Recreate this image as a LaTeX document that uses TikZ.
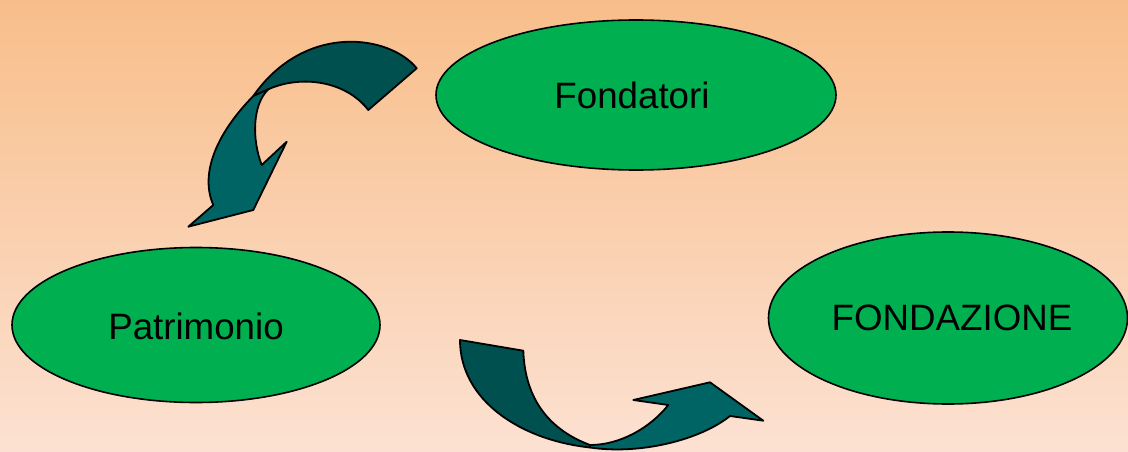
\documentclass[tikz,border=0pt]{standalone}
\usepackage{fontspec}
\setmainfont{Liberation Sans}
\usetikzlibrary{shapes.geometric}
\definecolor{bgtop}{HTML}{F8BE8A}
\definecolor{bgmid}{HTML}{F9D6A2}
\definecolor{bgbot}{HTML}{FCE1D2}
\definecolor{ovalgreen}{HTML}{00B050}
\definecolor{backteal}{HTML}{005050}
\definecolor{frontteal}{HTML}{006464}
\tikzset{
  oval/.style={ellipse, draw=black, line width=1.6pt, fill=ovalgreen, inner sep=0pt},
  label text/.style={font=\fontsize{36.7}{44}\selectfont},
  backface/.style={fill=backteal, draw=black, line width=1.8pt, line join=round},
  frontface/.style={fill=frontteal, draw=black, line width=1.8pt, line join=round},
}
\begin{document}
\begin{tikzpicture}[x=1pt,y=-1pt]
\useasboundingbox (0,0) rectangle (1128,452);
\shade[top color=bgtop, middle color=bgmid, bottom color=bgbot] (0,0) rectangle (1128,452);
\clip (0,0) rectangle (1128,452);

\node[oval, minimum width=400pt, minimum height=150pt] (fond) at (636,95) {};
\node[label text] (fondt) at (632,95) {Fondatori};
\node[oval, minimum width=368pt, minimum height=155pt] (patr) at (196,325) {};
\node[label text] (patrt) at (196,326) {Patrimonio};
\node[oval, minimum width=359pt, minimum height=172pt] (fnd) at (948,318) {};
\node[label text] (fndt) at (952,318) {FONDAZIONE};

% top-left curved arrow: back face
\path[backface] (416.7,68.3) .. controls (390,35) and (305,22) .. (253.3,96)
  -- (268.3,89.3) .. controls (300,75) and (345,80) .. (368.3,110) -- cycle;
% front face
\path[frontface] (253.3,96) .. controls (215,135) and (200,175) .. (213.3,205)
  -- (188.3,226.7) -- (253.3,210) -- (286.7,141.7) -- (261.7,165)
  .. controls (252,140) and (252,105) .. (268.3,89.3) -- cycle;

% bottom curved arrow: back face
\path[backface] (460,340) .. controls (460,400) and (520,440) .. (590,447.5)
  -- (590,445) .. controls (550,430) and (525,400) .. (523.3,350.7) -- cycle;
% front face
\path[frontface] (590,447.5) .. controls (640,455) and (700,440) .. (730,416)
  -- (763.3,420.7) -- (710,382.3) -- (633.3,400) -- (668.3,405)
  .. controls (650,428) and (620,445) .. (590,445) -- cycle;
\end{tikzpicture}
\end{document}
